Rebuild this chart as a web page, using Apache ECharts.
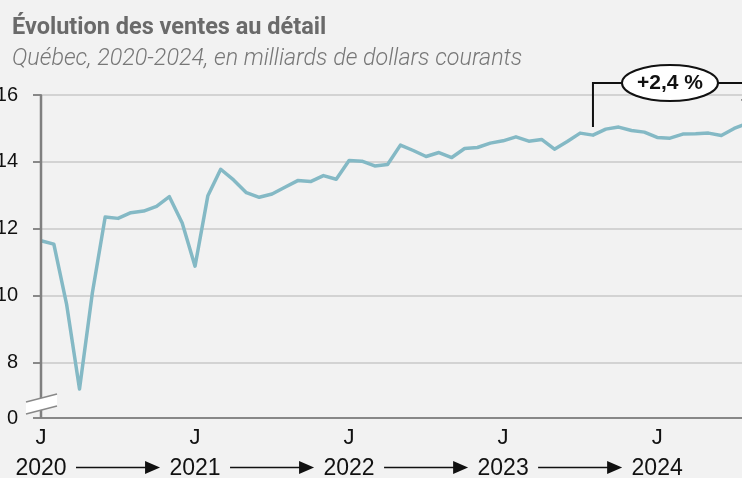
<!DOCTYPE html>
<html lang="fr">
<head>
    <meta charset="UTF-8">
    <title>Évolution des ventes au détail</title>
    <script src="https://cdn.jsdelivr.net/npm/echarts@6/dist/echarts.min.js"></script>
    <style type="text/css">
        html, body { margin: 0; padding: 0; background: #f2f2f2; }
        #main { width: 742px; height: 478px; }
    </style>
</head>
<body>
<div id="main"></div>
<script type="application/javascript">
    // data (billions of current dollars)
    var years = ['2020', '2021', '2022', '2023', '2024'];
    var monthInitials = ['J', 'F', 'M', 'A', 'M', 'J', 'J', 'A', 'S', 'O', 'N', 'D'];
    var sales2020 = [11.64, 11.54, 9.73, 7.21, 10.08, 12.35, 12.31, 12.48, 12.53, 12.67, 12.96, 12.17];
    var sales2021 = [10.88, 12.99, 13.78, 13.46, 13.08, 12.94, 13.04, 13.24, 13.44, 13.41, 13.59, 13.48];
    var sales2022 = [14.04, 14.02, 13.88, 13.92, 14.50, 14.34, 14.16, 14.28, 14.13, 14.40, 14.43, 14.56];
    var sales2023 = [14.63, 14.75, 14.62, 14.67, 14.38, 14.61, 14.86, 14.80, 14.98, 15.04, 14.94, 14.89];
    var sales2024 = [14.73, 14.71, 14.83, 14.84, 14.86, 14.79, 15.00, 15.15];
    var yTicks = [8, 10, 12, 14, 16];
    var yMin = 6.34;   // broken axis: bottom of the plot is shown as 0
    var changeLabel = '+2,4 %';
    var changeFrom = '2023-08';
    var changeTo = '2024-08';

    var allSales = [sales2020, sales2021, sales2022, sales2023, sales2024];
    var categories = [];
    var values = [];
    allSales.forEach(function (arr, k) {
        arr.forEach(function (v, m) {
            categories.push(years[k] + '-' + (m < 9 ? '0' : '') + (m + 1));
            values.push(v);
        });
    });

    var myChart = echarts.init(document.getElementById('main'));

    myChart.setOption({
        backgroundColor: '#f2f2f2',
        animation: false,
        title: {
            text: 'Évolution des ventes au détail',
            subtext: 'Québec, 2020-2024, en milliards de dollars courants',
            left: 7,
            top: 11,
            itemGap: 8,
            textStyle: { fontFamily: 'Roboto', fontWeight: 'bold', fontSize: 23.5, color: '#6a6a6a' },
            subtextStyle: { fontFamily: 'Roboto', fontStyle: 'italic', fontWeight: 300, fontSize: 23.3, color: '#777' }
        },
        grid: { left: 41, right: -5, top: 95, bottom: 60, outerBoundsMode: 'none' },
        xAxis: {
            type: 'category',
            boundaryGap: false,
            data: categories,
            axisLine: { lineStyle: { color: '#888', width: 2 } },
            axisTick: { show: false },
            axisLabel: {
                interval: function (i) { return i % 12 === 0; },
                margin: 7,
                formatter: function (v) {
                    return '{m|' + monthInitials[0] + '}\n{y|' + v.slice(0, 4) + '}';
                },
                rich: {
                    m: { fontFamily: 'Liberation Sans', fontSize: 22, lineHeight: 26, color: '#111' },
                    y: { fontFamily: 'Liberation Sans', fontSize: 23, lineHeight: 36, color: '#111' }
                }
            }
        },
        yAxis: {
            type: 'value',
            position: 'left',
            min: yMin,
            max: 16,
            axisLine: { show: true, onZero: false, lineStyle: { color: '#888', width: 2 } },
            axisTick: { show: true, length: 8, customValues: [yMin].concat(yTicks), lineStyle: { color: '#888', width: 2 } },
            axisLabel: {
                customValues: [yMin].concat(yTicks),
                margin: 23,
                fontFamily: 'Liberation Sans',
                fontSize: 20,
                color: '#111',
                formatter: function (v) { return v < yTicks[0] - 1 ? '0' : String(v); }
            },
            splitLine: { show: true, lineStyle: { color: '#c8c8c8', width: 1.5 } }
        },
        series: [{
            type: 'line',
            data: values,
            symbol: 'none',
            lineStyle: { color: '#84b9c5', width: 3.5, join: 'round' }
        }]
    });

    // decorations placed from the axes: y axis line, axis break, year arrows, change bracket
    function px(cat, val) {
        return myChart.convertToPixel({ gridIndex: 0 }, [cat, val]);
    }
    var graphics = [];
    var base = px(categories[0], yMin);
    var axisTopY = myChart.convertToPixel({ yAxisIndex: 0 }, 16);
    graphics.push({
        type: 'rect', z: 90,
        shape: { x: base[0] - 1.25, y: axisTopY, width: 2.5, height: base[1] - axisTopY },
        style: { fill: '#808080' }
    });

    var bx = base[0], by = base[1] - 14;
    var A = [bx - 15, by - 2], B = [bx + 16, by - 10], C = [bx + 16, by + 2], D = [bx - 15, by + 10];
    graphics.push({ type: 'polygon', z: 100, shape: { points: [A, B, C, D] }, style: { fill: '#fff', stroke: null } });
    graphics.push({ type: 'line', z: 101, shape: { x1: A[0], y1: A[1], x2: B[0], y2: B[1] }, style: { stroke: '#888', lineWidth: 1.5 } });
    graphics.push({ type: 'line', z: 101, shape: { x1: D[0], y1: D[1], x2: C[0], y2: C[1] }, style: { stroke: '#888', lineWidth: 1.5 } });

    var arrowY = base[1] + 49.5;
    for (var k = 0; k < years.length - 1; k++) {
        var a = px(years[k] + '-01', yMin)[0] + 35;
        var b = px(years[k + 1] + '-01', yMin)[0] - 35;
        graphics.push({ type: 'line', shape: { x1: a, y1: arrowY, x2: b - 12, y2: arrowY }, style: { stroke: '#111', lineWidth: 1.5 } });
        graphics.push({ type: 'polygon', shape: { points: [[b - 15, arrowY - 6.5], [b, arrowY], [b - 15, arrowY + 6.5]] }, style: { fill: '#111' } });
    }

    var p1 = px(changeFrom, values[categories.indexOf(changeFrom)]);
    var p2 = px(changeTo, values[categories.indexOf(changeTo)]);
    var topY = axisTopY - 12;
    var midX = (p1[0] + p2[0]) / 2;
    graphics.push({ type: 'polyline', z: 50, shape: { points: [[p1[0], p1[1] - 8], [p1[0], topY], [p2[0], topY], [p2[0], p2[1] - 22]] }, style: { stroke: '#111', lineWidth: 2, fill: null } });
    graphics.push({ type: 'polygon', z: 50, shape: { points: [[p2[0] - 6, p2[1] - 24], [p2[0] + 6, p2[1] - 24], [p2[0], p2[1] - 14]] }, style: { fill: '#111' } });
    graphics.push({ type: 'ellipse', z: 51, shape: { cx: midX, cy: topY, rx: 48, ry: 18 }, style: { fill: '#fff', stroke: '#111', lineWidth: 2 } });
    graphics.push({
        type: 'text', z: 52, x: midX, y: topY,
        style: { text: changeLabel, fontFamily: 'Liberation Sans', fontWeight: 'bold', fontSize: 21, fill: '#111', align: 'center', verticalAlign: 'middle' }
    });
    myChart.setOption({ graphic: graphics });
</script>
</body>
</html>
